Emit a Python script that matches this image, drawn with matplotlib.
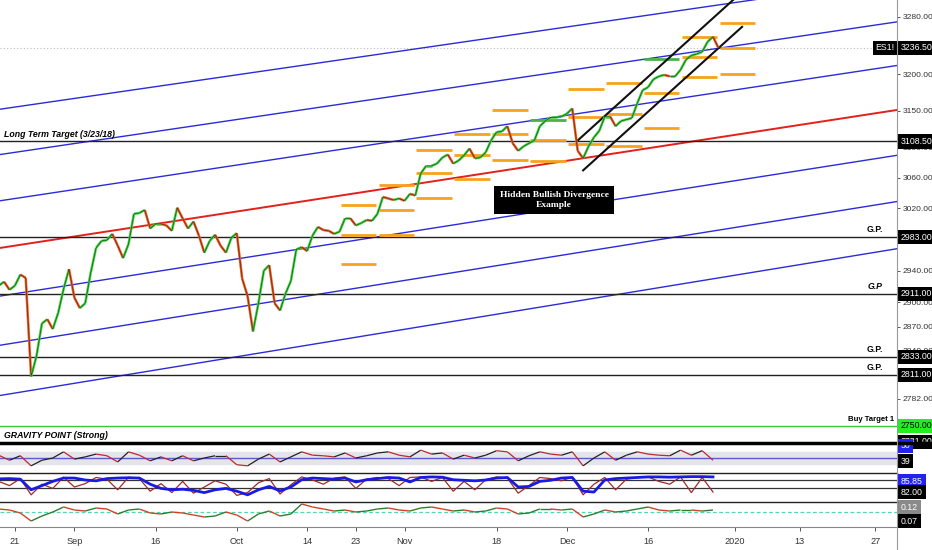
import matplotlib
matplotlib.use("Agg")
import matplotlib.pyplot as plt
import matplotlib.dates as mdates
from matplotlib.collections import LineCollection
from matplotlib.lines import Line2D
from matplotlib.ticker import FixedLocator, NullLocator, FuncFormatter
import numpy as np
import pandas as pd

# ---- data (ES1!, daily, log price scale) ----
price_start = "2019-08-18"
closes = [2921, 2926, 2916, 2921, 2935, 2931, 2809, 2834, 2874, 2879,
          2867, 2887, 2917, 2942, 2906, 2893, 2899, 2937, 2969, 2978,
          2979, 2987, 2972, 2956, 2974, 3013, 3014, 3018, 2994, 3000,
          3000, 2998, 2991, 3021, 3007, 2994, 3003, 2985, 2963, 2978,
          2986, 2972, 2963, 2982, 2988, 2930, 2908, 2864, 2899, 2940,
          2947, 2899, 2890, 2911, 2927, 2967, 2970, 2965, 2985, 2996,
          2992, 2991, 2987, 2990, 3007, 3007, 2998, 3001, 3005, 3004,
          3013, 3035, 3033, 3031, 3033, 3030, 3039, 3037, 3066, 3076,
          3076, 3079, 3087, 3091, 3079, 3083, 3090, 3099, 3086, 3087,
          3094, 3110, 3121, 3122, 3129, 3106, 3096, 3102, 3106, 3110,
          3129, 3136, 3141, 3141, 3142, 3146, 3153, 3096, 3086, 3102,
          3114, 3123, 3142, 3142, 3129, 3136, 3138, 3140, 3160, 3178,
          3182, 3193, 3197, 3199, 3197, 3197, 3206, 3220, 3226, 3228,
          3231, 3245, 3252, 3236.5]
last_price = 3236.5

# horizontal levels
levels = [3108.5, 2983.0, 2911.0, 2833.0, 2811.0]
level_notes = ["", "G.P.", "G.P", "G.P.", "G.P."]
buy_target = 2750.0

# regression channel (parallel in price)
chan_start, chan_end = "2019-08-18 06:00", "2020-01-31 00:00"
chan_mid = [2969, 3151]
chan_step = 61
chan_offsets = [3, 2, 1, -1, -2, -3]

# short-term black channel
bc_upper = (["2019-12-02 21:00", "2019-12-31 17:00"], [3109, 3304])
bc_lower = (["2019-12-04 00:00", "2020-01-02 09:00"], [3070, 3266])

# weekly pivot levels
week_start = "2019-10-20"
piv_top = [3024, 3051, 3097, 3119, 3151, 3138, 3179, 3188, 3221, 3252, 3272]
piv_mid = [2986, 3018, 3066, 3090, 3118, 3110, 3142, 3145, 3174, 3224, 3236]
piv_bot = [2949, 2985, 3034, 3058, 3084, 3082, 3105, 3102, 3127, 3196, 3200]
piv_top_green = [5, 8]

# indicators (every 2 days)
ind_start = "2019-08-18"
osc1 = [55, 46, 54, 36, 46, 50, 61, 48, 52, 57, 54, 43, 61, 55, 45, 52, 45,
        54, 45, 50, 54, 54, 38, 36, 48, 57, 43, 52, 61, 55, 54, 52, 59, 50,
        54, 59, 61, 55, 52, 64, 57, 59, 48, 55, 50, 55, 63, 61, 45, 54, 61,
        57, 55, 61, 36, 50, 61, 46, 55, 61, 57, 55, 54, 64, 55, 63, 46]
stoch = [70, 55, 80, 22, 60, 45, 85, 50, 62, 84, 78, 40, 85, 80, 35, 62, 30,
         70, 28, 50, 72, 60, 20, 30, 65, 80, 25, 58, 86, 75, 60, 82, 86, 45,
         78, 84, 80, 55, 84, 86, 70, 84, 35, 70, 40, 76, 86, 82, 28, 55, 84,
         80, 72, 86, 22, 60, 84, 40, 78, 84, 86, 70, 60, 86, 30, 84, 32]
stoch_slow = [79, 80, 78, 40, 55, 70, 82, 82, 75, 72, 80, 82, 83, 82, 60, 45,
              40, 42, 38, 30, 40, 45, 35, 22, 40, 52, 36, 50, 76, 82, 80, 78,
              82, 68, 76, 80, 84, 82, 68, 84, 86, 85, 76, 74, 72, 75, 82, 84,
              50, 52, 70, 74, 82, 84, 35, 32, 75, 80, 82, 84, 86, 86, 85, 86,
              87, 87, 86]
macd = [3, 2, -1, -9, -4, 0, 5, 2, 1, 4, 3, -2, 2, 3, -1, -2, 0, -1, -3, -5,
        -4, 0, -3, -9, -2, 1, -4, -2, 8, 5, 3, 1, 2, 0, 1, 3, 4, 2, 1, 4, 5,
        3, 1, 2, 0, 1, 4, 3, -2, -1, 3, 3, 2, 3, -5, -2, 2, 0, 1, 3, 5, 2, 1,
        2, 2, 1, 2]

tick_dates = ["2019-08-21", "2019-09-01", "2019-09-16", "2019-10-01", "2019-10-14",
              "2019-10-23", "2019-11-01", "2019-11-18", "2019-12-01", "2019-12-16",
              "2020-01-01", "2020-01-13", "2020-01-27"]
tick_labels = ["21", "Sep", "16", "Oct", "14", "23", "Nov", "18", "Dec", "16",
               "2020", "13", "27"]
price_ticks = [3280, 3200, 3150, 3100, 3060, 3020, 2940, 2900, 2870, 2840, 2782]

SANS = "Liberation Sans"


def dnum(values):
    return mdates.date2num(pd.to_datetime(values, format="mixed"))


# ---- figure ----
W, H = 932, 550
fig = plt.figure(figsize=(W / 100, H / 100), dpi=100)
xmin, xmax = dnum([chan_start, chan_end])
RIGHT = 897


def px_axes(top, bottom):
    a = fig.add_axes([0, 1 - bottom / H, RIGHT / W, (bottom - top) / H])
    a.set_xlim(xmin, xmax)
    for s in a.spines.values():
        s.set_visible(False)
    a.set_yticks([])
    a.set_xticks([])
    return a


def colored_line(a, x, y, up, down, lw, z=3):
    pts = np.column_stack([x, y])
    segs = np.stack([pts[:-1], pts[1:]], axis=1)
    cols = [up if y[i + 1] >= y[i] else down for i in range(len(y) - 1)]
    a.add_collection(LineCollection(segs, colors=cols, linewidths=lw, zorder=z))


def tag(a, y, text, fc, tc="white", trans=None):
    a.text(1.0045, y, text, transform=trans or a.get_yaxis_transform(),
           ha="left", va="center", fontsize=6.3, family=SANS, color=tc,
           clip_on=False, zorder=20,
           bbox=dict(boxstyle="square,pad=0.3", fc=fc, ec="none"))


ax = px_axes(0, 443)
ax.set_yscale("log")
ax.set_ylim(2729.5, 3304)

# channel
for k in chan_offsets:
    ax.plot([xmin, xmax], [chan_mid[0] + k * chan_step, chan_mid[1] + k * chan_step],
            color="#2b2bd8", lw=1.0, zorder=2)
ax.plot([xmin, xmax], chan_mid, color="#e3201b", lw=1.4, zorder=2)

# horizontal levels
for lv in levels:
    ax.axhline(lv, color="#222222", lw=1.0, zorder=2)
ax.axhline(buy_target, color="#33cc33", lw=1.0, zorder=2)
ax.axhline(last_price, color="#bbbbbb", lw=0.8, ls=(0, (1, 2)), zorder=1)

# weekly pivots
wk = pd.date_range(week_start, periods=len(piv_top), freq="7D")
for i, d in enumerate(wk):
    x0 = mdates.date2num(d + pd.Timedelta(hours=5))
    x1 = mdates.date2num(d + pd.Timedelta(days=6, hours=19))
    for j, vals in enumerate([piv_top, piv_mid, piv_bot]):
        c = "#4caf50" if (j == 0 and i in piv_top_green) else "#f7a21b"
        ax.plot([x0, x1], [vals[i], vals[i]], color=c, lw=2.0, zorder=3,
                solid_capstyle="butt")

# black channel
for xs, ys in [bc_upper, bc_lower]:
    ax.plot(dnum(xs), ys, color="#111111", lw=1.5, zorder=4)

# price
pdates = mdates.date2num(pd.date_range(price_start, periods=len(closes), freq="D"))
colored_line(ax, pdates, closes, "#39d139", "#ee5a1e", 1.8, z=5)
ax.plot(pdates, closes, color="#111111", lw=0.45, alpha=0.7, zorder=6)

# y axis on the right
ax.yaxis.tick_right()
ax.yaxis.set_major_locator(FixedLocator(price_ticks))
ax.yaxis.set_minor_locator(NullLocator())
ax.yaxis.set_major_formatter(FuncFormatter(lambda v, p: f"{v:.2f}"))
ax.tick_params(axis="y", which="both", length=2.5, width=0.7, colors="#555555",
               labelsize=6.1, pad=1.5, direction="out")
ax.tick_params(axis="y", labelcolor="#333333")
for t in ax.get_yticklabels():
    t.set_family(SANS)

# tags on the price scale
tag(ax, last_price, "3236.50", "black")
ax.text(0.9975, last_price, "ES1!", transform=ax.get_yaxis_transform(), ha="right",
        va="center", fontsize=6.3, family=SANS, color="white", zorder=20,
        bbox=dict(boxstyle="square,pad=0.3", fc="black", ec="none"))
for lv in levels:
    tag(ax, lv, f"{lv:.2f}", "black")
tag(ax, buy_target, "2750.00", "#22ee22", tc="black")
tag(ax, 2731, "2731.00", "black")

# annotations
note_font = dict(family=SANS, fontweight="bold")
ax.annotate("Long Term Target (3/23/18)", xy=(0.004, levels[0]),
            xycoords=ax.get_yaxis_transform(), xytext=(0, 1.5), textcoords="offset points",
            ha="left", va="bottom", fontsize=6.3, fontstyle="italic", **note_font)
for lv, note in zip(levels, level_notes):
    if note:
        ax.annotate(note, xy=(0.984, lv), xycoords=ax.get_yaxis_transform(),
                    xytext=(0, 2), textcoords="offset points", ha="right", va="bottom",
                    fontsize=6.3, fontstyle="italic" if note == "G.P" else "normal",
                    **note_font)
ax.annotate("Buy Target 1", xy=(0.997, buy_target), xycoords=ax.get_yaxis_transform(),
            xytext=(0, 2), textcoords="offset points", ha="right", va="bottom",
            fontsize=5.6, **note_font)
ax.annotate("GRAVITY POINT (Strong)", xy=(0.004, 0.0), xycoords="axes fraction",
            xytext=(0, 2.5), textcoords="offset points", ha="left", va="bottom",
            fontsize=6.3, fontstyle="italic", **note_font)
ax.text(dnum(["2019-11-28 15:00"])[0], 3031,
        "Hidden Bullish Divergence\nExample", ha="center", va="center",
        family="Liberation Serif", fontweight="bold", fontsize=6.8, color="white",
        linespacing=1.25, zorder=15,
        bbox=dict(boxstyle="square,pad=0.6", fc="black", ec="none"))

# ---- indicator panels ----
idates = mdates.date2num(pd.date_range(ind_start, periods=len(osc1), freq="2D"))

ax1 = px_axes(444, 472)
ax1.set_ylim(25, 75)
ax1.axhspan(40, 60, color="#e4e4ec", zorder=1)
ax1.axhline(50, color="#5b5bd6", lw=1.0, zorder=2)
colored_line(ax1, idates, osc1, "#222222", "#c0282a", 0.9)
tag(ax1, 0.93, "50", "#2222ee", trans=ax1.transAxes)
tag(ax1, 0.39, "39", "black", trans=ax1.transAxes)

ax2 = px_axes(473, 501)
ax2.set_ylim(0, 100)
ax2.axhline(75, color="#333333", lw=0.9)
ax2.axhline(45, color="#333333", lw=0.9)
ax2.plot(idates, stoch, color="#9e2a2a", lw=0.9, zorder=3)
ax2.plot(idates, stoch_slow, color="#1a1ae6", lw=2.0, zorder=4)
tag(ax2, 0.71, "85.85", "#2222ee", trans=ax2.transAxes)
tag(ax2, 0.32, "82.00", "black", trans=ax2.transAxes)

ax3 = px_axes(502, 527)
ax3.set_ylim(-15, 10)
ax3.axhline(0, color="#4fd8b0", lw=0.9, ls=(0, (3, 2)), zorder=2)
colored_line(ax3, idates, macd, "#2e7d32", "#d0432a", 1.0)
tag(ax3, 0.8, "0.12", "#8a8a8a", trans=ax3.transAxes)
tag(ax3, 0.24, "0.07", "black", trans=ax3.transAxes)
ax3.spines["bottom"].set_visible(True)
ax3.spines["bottom"].set_color("#888888")
ax3.set_xticks(dnum(tick_dates))
ax3.set_xticklabels(tick_labels, family=SANS)
ax3.tick_params(axis="x", length=3, width=0.7, colors="#555555", labelsize=6.6,
                labelcolor="#333333", pad=4)

# separators and price-scale border
fig.add_artist(Line2D([0, 1], [1 - 443 / H] * 2, color="black", lw=2.5))
for yy in (472.5, 501.5):
    fig.add_artist(Line2D([0, RIGHT / W], [1 - yy / H] * 2, color="#222222", lw=1.0))
fig.add_artist(Line2D([RIGHT / W] * 2, [0, 1], color="#999999", lw=0.8))

fig.savefig("out.png", dpi=100)
